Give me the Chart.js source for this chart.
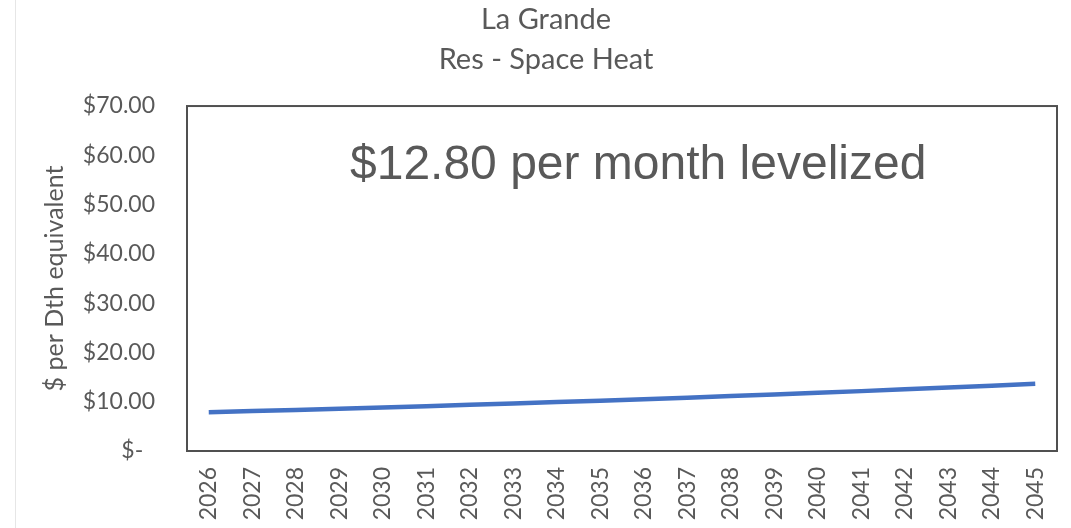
<!DOCTYPE html>
<html>
<head>
<meta charset="utf-8">
<script src="https://cdn.jsdelivr.net/npm/chart.js@4.4.1/dist/chart.umd.min.js"></script>
<style>
  html, body { margin: 0; padding: 0; background: #ffffff; }
  #wrap { position: relative; width: 1071px; height: 528px; overflow: hidden; }
  #edge { position: absolute; left: 15px; top: 0; width: 1px; height: 528px; background: #e6e6e6; }
  canvas { position: absolute; left: 0; top: 0; }
</style>
</head>
<body>
<div id="wrap">
  <div id="edge"></div>
  <canvas id="c" width="1071" height="528"></canvas>
</div>
<script>
const titleLines = ["La Grande", "Res - Space Heat"];
const yAxisTitle = "$ per Dth equivalent";
const annotationText = "$12.80 per month levelized";
const years = ["2026","2027","2028","2029","2030","2031","2032","2033","2034","2035",
               "2036","2037","2038","2039","2040","2041","2042","2043","2044","2045"];
const costValues = [7.87, 8.10, 8.34, 8.58, 8.83, 9.09, 9.36, 9.63, 9.92, 10.21,
                    10.51, 10.82, 11.14, 11.47, 11.81, 12.15, 12.51, 12.88, 13.26, 13.65];
const yMin = 0, yMax = 70, yStep = 10;

const textColor = '#595959';
const tickFont = { family: 'Lato', size: 23 };

const boxAndNote = {
  id: 'boxAndNote',
  afterDatasetsDraw(chart) {
    const { ctx, chartArea } = chart;
    ctx.save();
    ctx.strokeStyle = '#505050';
    ctx.lineWidth = 2;
    ctx.strokeRect(chartArea.left, chartArea.top, chartArea.right - chartArea.left, chartArea.bottom - chartArea.top);
    ctx.fillStyle = textColor;
    ctx.font = '48px "Liberation Sans", Arial, sans-serif';
    ctx.textAlign = 'left';
    ctx.textBaseline = 'alphabetic';
    ctx.fillText(annotationText, chartArea.left + 163, chartArea.top + 73);
    ctx.restore();
  }
};

new Chart(document.getElementById('c'), {
  type: 'line',
  data: {
    labels: years,
    datasets: [{
      data: costValues,
      borderColor: '#4472C4',
      borderWidth: 4.5,
      pointRadius: 0,
      tension: 0,
      fill: false
    }]
  },
  options: {
    responsive: false,
    animation: false,
    layout: { padding: { left: 35, right: 14, top: 0, bottom: 0 } },
    plugins: {
      legend: { display: false },
      tooltip: { enabled: false },
      title: {
        display: true,
        text: titleLines,
        color: textColor,
        font: { family: 'Lato', size: 29, weight: 'normal', lineHeight: 1.38 },
        padding: { top: 0, bottom: 26 }
      }
    },
    scales: {
      x: {
        offset: true,
        grid: { display: false, drawTicks: false },
        border: { display: false },
        ticks: {
          color: textColor,
          font: tickFont,
          minRotation: 90,
          maxRotation: 90,
          padding: 16,
          autoSkip: false
        },
        afterFit(scale) { scale.height = 77; scale.paddingLeft = 0; scale.paddingRight = 0; }
      },
      y: {
        min: yMin,
        max: yMax,
        grid: { display: false, drawTicks: false },
        border: { display: false },
        ticks: {
          stepSize: yStep,
          color: textColor,
          font: tickFont,
          padding: 32,
          callback: (v) => v === 0 ? '$-  ' : '$' + Number(v).toFixed(2)
        },
        title: {
          display: true,
          text: yAxisTitle,
          color: textColor,
          font: { family: 'Lato', size: 25 },
          padding: { top: 5, bottom: 0 }
        },
        afterFit(scale) { scale.width = 152; }
      }
    }
  },
  plugins: [boxAndNote]
});
</script>
</body>
</html>
